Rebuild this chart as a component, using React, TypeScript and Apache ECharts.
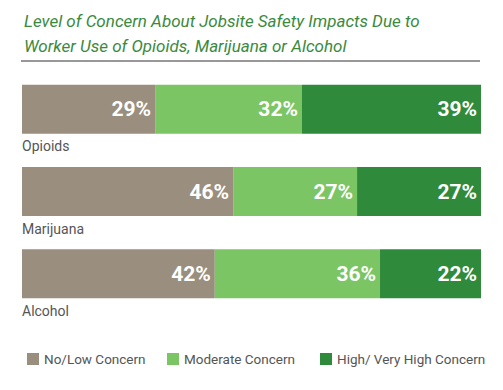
import React, { useEffect, useRef } from "react";
import * as echarts from "echarts";

const categories = ["Opioids", "Marijuana", "Alcohol"];
const seriesNames = ["No/Low Concern", "Moderate Concern", "High/ Very High Concern"];
const noLow = [29, 46, 42];
const moderate = [32, 27, 36];
const high = [39, 27, 22];
const colors = ["#9a8f7e", "#7cc565", "#2f8a3b"];
const titleLines = [
  "Level of Concern About Jobsite Safety Impacts Due to",
  "Worker Use of Opioids, Marijuana or Alcohol",
];

export default function App() {
  const ref = useRef<HTMLDivElement>(null);
  useEffect(() => {
    if (!ref.current) return;
    const chart = echarts.init(ref.current, null, { renderer: "svg" });
    const values = [noLow, moderate, high];
    const legendLefts = [27, 167, 320];
    chart.setOption({
      animation: false,
      textStyle: { fontFamily: "Roboto" },
      title: {
        text: titleLines.join("\n"),
        left: 19,
        top: 3,
        textStyle: {
          fontFamily: "Roboto",
          fontStyle: "italic",
          fontWeight: "normal",
          fontSize: 17,
          lineHeight: 25,
          color: "#3a8a3e",
        },
      },
      graphic: [
        {
          type: "line",
          shape: { x1: 21, y1: 61, x2: 480, y2: 61 },
          style: { stroke: "#333", lineWidth: 1.2 },
        },
      ],
      legend: seriesNames.map((name, i) => ({
        top: 352,
        left: legendLefts[i],
        padding: 0,
        itemWidth: 12,
        itemHeight: 12,
        itemGap: 5,
        icon: "rect",
        textStyle: { color: "#555", fontSize: 13.5, fontFamily: "Roboto" },
        data: [name],
      })),
      grid: { left: 22, right: 22, top: 68, height: 247 },
      xAxis: { type: "value", min: 0, max: 100, show: false },
      yAxis: {
        type: "category",
        data: categories,
        inverse: true,
        axisLine: { show: false },
        axisTick: { show: false },
        axisLabel: {
          inside: true,
          margin: 0,
          formatter: (v: string) => `{a|${v}}`,
          rich: {
            a: {
              fontSize: 14,
              color: "#555",
              fontFamily: "Roboto",
              padding: [74, 0, 0, 0],
            },
          },
        },
        z: 10,
      },
      series: seriesNames.map((name, i) => ({
        name,
        type: "bar",
        stack: "total",
        barWidth: 49,
        data: values[i],
        itemStyle: { color: colors[i] },
        label: {
          show: true,
          position: "insideRight",
          distance: 4,
          formatter: "{c}%",
          color: "#fff",
          fontSize: 21,
          fontWeight: "bold",
          fontFamily: "Roboto",
        },
      })),
    });
    return () => chart.dispose();
  }, []);
  return (
    <div
      ref={ref}
      style={{ width: 503, height: 390, position: "absolute", left: 0, top: 0 }}
    />
  );
}
